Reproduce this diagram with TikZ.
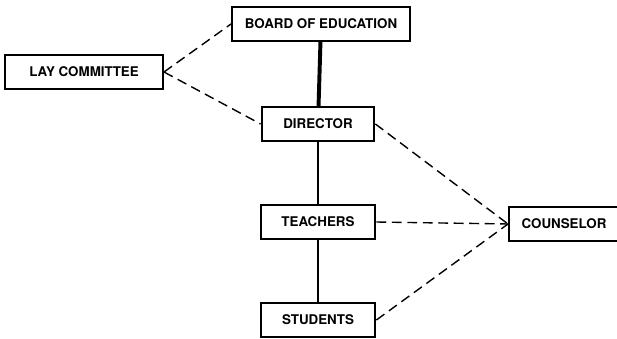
\documentclass[tikz,border=0pt]{standalone}
\usepackage{fontspec}
\setsansfont{TeX Gyre Heros}

\begin{document}
\begin{tikzpicture}[x=0.025cm,y=-0.025cm,
  office/.style={draw, line width=1.4pt, inner sep=0pt, minimum height=0.83cm,
    font=\sffamily\bfseries\fontsize{9.5}{10}\selectfont},
  advise/.style={dashed, dash pattern=on 7pt off 4pt, line width=1pt}]
\useasboundingbox (0,0) rectangle (617,339);
\node[office, minimum width=4.45cm] (board) at (321,24) {BOARD OF EDUCATION};
\node[office, minimum width=3.95cm] (lay) at (84,72) {LAY COMMITTEE};
\node[office, minimum width=2.82cm] (dir) at (318,124) {DIRECTOR};
\node[office, minimum width=2.87cm] (teach) at (318,222) {TEACHERS};
\node[office, minimum width=2.75cm] (couns) at (564,224) {COUNSELOR};
\node[office, minimum width=2.87cm] (stud) at (318,320) {STUDENTS};
% line of authority
\draw[line width=2.8pt] (board) -- (dir);
\draw[line width=1.6pt] (dir) -- (teach);
\draw[line width=1pt] (teach) -- (stud);
% advisory links
\draw[advise] (lay.east) -- (board.west);
\draw[advise] (lay.east) -- (dir.west);
\draw[advise] (dir.east) -- (couns.west);
\draw[advise] (teach.east) -- (couns.west);
\draw[advise] (stud.east) -- (couns.west);
\end{tikzpicture}
\end{document}
